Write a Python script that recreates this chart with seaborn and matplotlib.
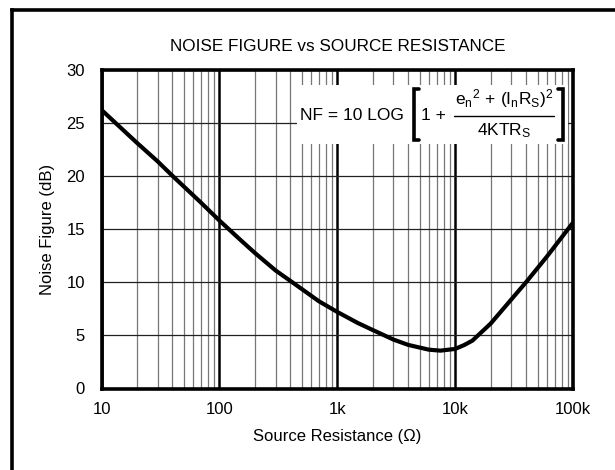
import matplotlib
matplotlib.use("Agg")
import matplotlib.pyplot as plt
import matplotlib.ticker as mticker
from matplotlib.lines import Line2D
from matplotlib.patches import Rectangle
import seaborn as sns
import pandas as pd

# Data
resistance = [10, 20, 30, 40, 68, 100, 150, 200, 300, 433, 700, 1000,
              1500, 2000, 3000, 4000, 6000, 7500, 10000, 12000, 14000, 20000, 40000, 60000, 100000]
noise_figure = [26.2, 23.1, 21.35, 20.0, 17.6, 15.8, 14.0, 12.75, 11.1, 9.85, 8.2, 7.2,
                6.15, 5.5, 4.6, 4.1, 3.65, 3.56, 3.72, 4.1, 4.5, 6.1, 10.0, 12.4, 15.6]
x_ticks = [10, 100, 1000, 10000, 100000]
x_tick_labels = ["10", "100", "1k", "10k", "100k"]
y_ticks = [0, 5, 10, 15, 20, 25, 30]

title = "NOISE FIGURE vs SOURCE RESISTANCE"
x_label = "Source Resistance (\u03A9)"
y_label = "Noise Figure (dB)"

sns.set_style("white")
plt.rcParams["font.family"] = ["Liberation Sans", "DejaVu Sans"]
plt.rcParams["mathtext.fontset"] = "custom"
plt.rcParams["mathtext.rm"] = "Liberation Sans"
plt.rcParams["mathtext.it"] = "Liberation Sans"
plt.rcParams["mathtext.bf"] = "Liberation Sans:bold"
plt.rcParams["text.color"] = "black"
plt.rcParams["axes.labelcolor"] = "black"

df = pd.DataFrame({"R": resistance, "NF": noise_figure})

W, H = 615, 470
fig = plt.figure(figsize=(W / 100, H / 100), dpi=100)
ax = fig.add_axes([101.5 / W, 1 - 388.5 / H, (573 - 101.5) / W, (388.5 - 69.5) / H])


def fx(x):
    return x / W


def fy(y):
    return 1 - y / H


ax.set_xscale("log")
ax.set_xlim(10, 100000)
ax.set_ylim(0, 30)

# grid
ax.xaxis.set_minor_locator(mticker.LogLocator(base=10, subs=range(2, 10)))
ax.xaxis.set_minor_formatter(mticker.NullFormatter())
ax.grid(True, which="minor", axis="x", color="#777777", linewidth=0.9, zorder=1)
ax.grid(True, which="major", axis="x", color="black", linewidth=1.8, zorder=1)
ax.grid(True, which="major", axis="y", color="#222222", linewidth=0.9, zorder=1)

sns.lineplot(data=df, x="R", y="NF", ax=ax, color="black", linewidth=3.0, zorder=5)

ax.set_xticks(x_ticks)
ax.set_xticklabels(x_tick_labels)
ax.set_yticks(y_ticks)
ax.tick_params(axis="both", which="both", length=0, labelsize=12, colors="black")
ax.tick_params(axis="x", pad=10)
ax.tick_params(axis="y", pad=12)

ax.set_xlabel(x_label, fontsize=12, labelpad=8)
ax.set_ylabel(y_label, fontsize=12, labelpad=8)
ax.set_title(title, fontsize=12.3, pad=13, color="black")

for s in ax.spines.values():
    s.set_visible(True)
    s.set_color("black")
    s.set_linewidth(2.6)
    s.set_zorder(6)

# formula box
ax.add_patch(Rectangle((fx(297), fy(144)), fx(568) - fx(297), fy(85) - fy(144),
                       transform=fig.transFigure, facecolor="white", edgecolor="none", zorder=3))
fig.text(fx(300), fy(115), "NF = 10 LOG", ha="left", va="center", fontsize=12.5, zorder=8)
fig.add_artist(Line2D([fx(419), fx(414), fx(414), fx(419)], [fy(89), fy(89), fy(140), fy(140)],
                      transform=fig.transFigure, color="black", linewidth=2.6,
                      solid_joinstyle="miter"))
fig.text(fx(421), fy(115), "1 +", ha="left", va="center", fontsize=12.5, zorder=8)
fig.text(fx(504), fy(99), r"$\mathregular{e_n{}^2\,+\,(I_nR_S)^2}$", ha="center", va="center",
         fontsize=12.5, zorder=8)
fig.add_artist(Line2D([fx(454), fx(554)], [fy(115.5), fy(115.5)], transform=fig.transFigure,
                      color="black", linewidth=1.0))
fig.text(fx(504), fy(131), r"$\mathregular{4KTR_S}$", ha="center", va="center",
         fontsize=12.5, zorder=8)
fig.add_artist(Line2D([fx(558), fx(563), fx(563), fx(558)], [fy(89), fy(89), fy(140), fy(140)],
                      transform=fig.transFigure, color="black", linewidth=2.6,
                      solid_joinstyle="miter"))

# outer frame (open at right and bottom)
fig.add_artist(Line2D([12 / W, 12 / W], [0, 1 - 9.5 / H], transform=fig.transFigure,
                      color="black", linewidth=2.6, solid_capstyle="projecting"))
fig.add_artist(Line2D([12 / W, 1.0], [1 - 9.5 / H, 1 - 9.5 / H], transform=fig.transFigure,
                      color="black", linewidth=2.6, solid_capstyle="projecting"))

fig.savefig("out.png", dpi=100)
